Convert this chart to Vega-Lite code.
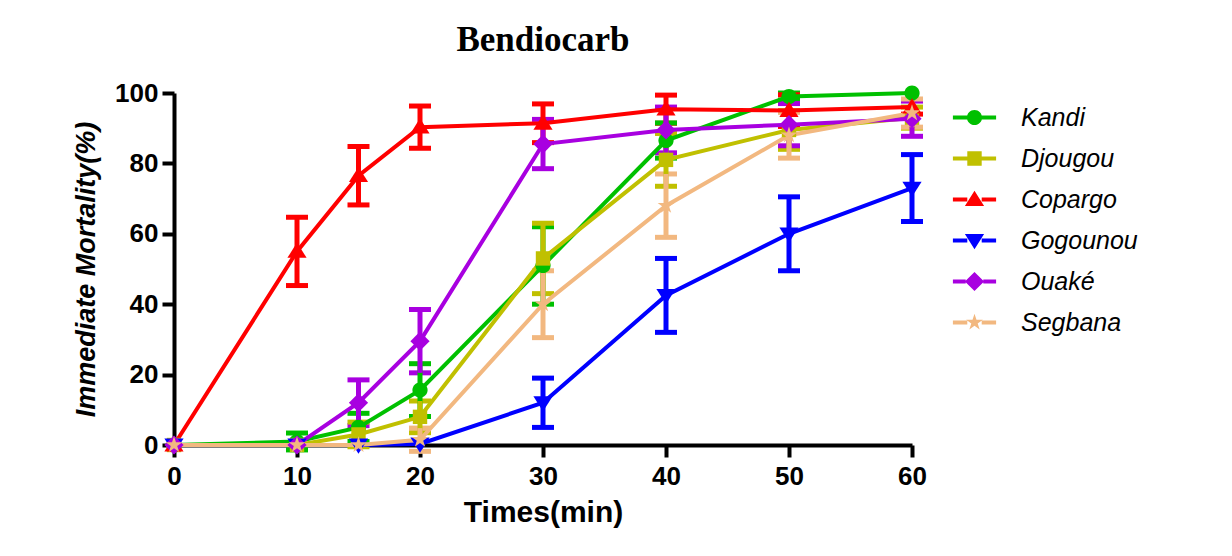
{
  "$schema": "https://vega.github.io/schema/vega-lite/v6.json",
  "autosize": {"type": "none"},
  "width": 738,
  "height": 352,
  "padding": {"left": 174, "top": 93, "right": 320, "bottom": 111},
  "background": "white",
  "title": {"text": "Bendiocarb", "font": "Liberation Serif", "fontSize": 35, "fontWeight": "bold", "color": "black", "anchor": "middle", "offset": 22},
  "config": {
    "view": {"stroke": null},
    "axis": {"grid": false, "labelFlush": false, "domainColor": "black", "domainWidth": 4, "tickColor": "black", "tickWidth": 4, "tickSize": 12, "labelColor": "black", "titleColor": "black", "labelFont": "Liberation Sans", "titleFont": "Liberation Sans", "labelFontWeight": "bold", "titleFontWeight": "bold", "labelFontSize": 26, "titleFontSize": 30}
  },
  "data": {"values": [
    {"site": "Kandi", "time": 0, "mort": 0, "sd": 0},
    {"site": "Kandi", "time": 10, "mort": 1, "sd": 2.4},
    {"site": "Kandi", "time": 15, "mort": 5, "sd": 4},
    {"site": "Kandi", "time": 20, "mort": 15.6, "sd": 7.5},
    {"site": "Kandi", "time": 30, "mort": 51, "sd": 11},
    {"site": "Kandi", "time": 40, "mort": 86.5, "sd": 5},
    {"site": "Kandi", "time": 50, "mort": 99, "sd": 1},
    {"site": "Kandi", "time": 60, "mort": 100, "sd": 0},
    {"site": "Djougou", "time": 0, "mort": 0, "sd": 0},
    {"site": "Djougou", "time": 10, "mort": 0, "sd": 0},
    {"site": "Djougou", "time": 15, "mort": 3, "sd": 3.5},
    {"site": "Djougou", "time": 20, "mort": 8, "sd": 4.5},
    {"site": "Djougou", "time": 30, "mort": 53, "sd": 10},
    {"site": "Djougou", "time": 40, "mort": 81, "sd": 7.5},
    {"site": "Djougou", "time": 50, "mort": 89.5, "sd": 5.5},
    {"site": "Djougou", "time": 60, "mort": 93, "sd": 3},
    {"site": "Copargo", "time": 0, "mort": 0, "sd": 0},
    {"site": "Copargo", "time": 10, "mort": 55, "sd": 9.7},
    {"site": "Copargo", "time": 15, "mort": 76.5, "sd": 8.3},
    {"site": "Copargo", "time": 20, "mort": 90.3, "sd": 6},
    {"site": "Copargo", "time": 30, "mort": 91.4, "sd": 5.5},
    {"site": "Copargo", "time": 40, "mort": 95.4, "sd": 4},
    {"site": "Copargo", "time": 50, "mort": 95, "sd": 4.5},
    {"site": "Copargo", "time": 60, "mort": 96, "sd": 2},
    {"site": "Gogounou", "time": 0, "mort": 0, "sd": 0},
    {"site": "Gogounou", "time": 10, "mort": 0, "sd": 0},
    {"site": "Gogounou", "time": 15, "mort": 0, "sd": 0},
    {"site": "Gogounou", "time": 20, "mort": 0.3, "sd": 0},
    {"site": "Gogounou", "time": 30, "mort": 12, "sd": 7},
    {"site": "Gogounou", "time": 40, "mort": 42.5, "sd": 10.5},
    {"site": "Gogounou", "time": 50, "mort": 60, "sd": 10.5},
    {"site": "Gogounou", "time": 60, "mort": 73, "sd": 9.5},
    {"site": "Ouaké", "time": 0, "mort": 0, "sd": 0},
    {"site": "Ouaké", "time": 10, "mort": 0, "sd": 0},
    {"site": "Ouaké", "time": 15, "mort": 12, "sd": 6.5},
    {"site": "Ouaké", "time": 20, "mort": 29.5, "sd": 9},
    {"site": "Ouaké", "time": 30, "mort": 85.5, "sd": 7},
    {"site": "Ouaké", "time": 40, "mort": 89.5, "sd": 6.5},
    {"site": "Ouaké", "time": 50, "mort": 91, "sd": 6},
    {"site": "Ouaké", "time": 60, "mort": 92.7, "sd": 5},
    {"site": "Segbana", "time": 0, "mort": 0, "sd": 0},
    {"site": "Segbana", "time": 10, "mort": 0, "sd": 0},
    {"site": "Segbana", "time": 15, "mort": 0, "sd": 0},
    {"site": "Segbana", "time": 20, "mort": 1.5, "sd": 3.3},
    {"site": "Segbana", "time": 30, "mort": 40, "sd": 9.5},
    {"site": "Segbana", "time": 40, "mort": 68, "sd": 9},
    {"site": "Segbana", "time": 50, "mort": 88, "sd": 6.5},
    {"site": "Segbana", "time": 60, "mort": 94.3, "sd": 4}
  ]},
  "encoding": {
    "x": {"field": "time", "type": "quantitative", "scale": {"domain": [0, 60], "nice": false}, "axis": {"values": [0, 10, 20, 30, 40, 50, 60], "title": "Times(min)", "labelPadding": 6, "titlePadding": 8}},
    "y": {"field": "mort", "type": "quantitative", "scale": {"domain": [0, 100], "nice": false}, "axis": {"values": [0, 20, 40, 60, 80, 100], "title": "Immediate Mortality(%)", "titleFontStyle": "italic", "titleFontSize": 27, "labelFontSize": 26, "labelPadding": 4, "titlePadding": 14}},
    "color": {"field": "site", "type": "nominal", "scale": {"domain": ["Kandi", "Djougou", "Copargo", "Gogounou", "Ouaké", "Segbana"], "range": ["#00C000", "#C0C000", "#FF0000", "#0000FF", "#A800E0", "#F2B880"]}, "legend": {
          "title": null, "orient": "none", "legendX": 788, "legendY": 12, "padding": 0,
          "labelFont": "Liberation Sans", "labelFontStyle": "italic", "labelFontSize": 25, "labelColor": "black",
          "labelOffset": 34, "rowPadding": 15, "symbolSize": 256, "symbolStrokeWidth": 0, "symbolOpacity": 1,
          "encode": {"symbols": {"update": {
            "fill": {"scale": "color", "field": "value"},
            "strokeWidth": {"value": 0},
            "opacity": {"value": 1},
            "shape": {"signal": "datum.value === 'Kandi' ? 'M-2.7,-0.25H-0.9V0.25H-2.7Z M0.9,-0.25H2.7V0.25H0.9Z M0,-0.95A0.95,0.95 0 1,1 0,0.95A0.95,0.95 0 1,1 0,-0.95Z' : datum.value === 'Djougou' ? 'M-2.7,-0.25H-0.9V0.25H-2.7Z M0.9,-0.25H2.7V0.25H0.9Z M-0.9,-0.9H0.9V0.9H-0.9Z' : datum.value === 'Copargo' ? 'M-2.7,-0.25H-0.9V0.25H-2.7Z M0.9,-0.25H2.7V0.25H0.9Z M0,-1.1L1.2,0.8H-1.2Z' : datum.value === 'Gogounou' ? 'M-2.7,-0.25H-0.9V0.25H-2.7Z M0.9,-0.25H2.7V0.25H0.9Z M0,1.1L1.2,-0.8H-1.2Z' : datum.value === 'Ouaké' ? 'M-2.7,-0.25H-1.1V0.25H-2.7Z M1.1,-0.25H2.7V0.25H1.1Z M0,-1.2L1.2,0L0,1.2L-1.2,0Z' : 'M-2.7,-0.25H-0.9V0.25H-2.7Z M0.9,-0.25H2.7V0.25H0.9Z M0,-1.1L0.247,-0.34L1.046,-0.34L0.399,0.13L0.647,0.89L0,0.42L-0.647,0.89L-0.399,0.13L-1.046,-0.34L-0.247,-0.34Z'"}
          }}}
        }}
  },
  "layer": [
    {
      "transform": [{"filter": "datum.sd > 0"}],
      "mark": {"type": "errorbar", "ticks": {"opacity": 1, "size": 22, "thickness": 5}, "rule": {"opacity": 1, "strokeWidth": 5}, "size": 22, "thickness": 5},
      "encoding": {
        "yError": {"field": "sd"}
      }
    },
    {
      "mark": {"type": "line", "strokeWidth": 4}
    },
    {
      "transform": [{"filter": "datum.site === 'Kandi'"}],
      "mark": {"type": "point", "filled": true, "opacity": 1, "size": 256, "strokeWidth": 0, "shape": "M0,-0.95A0.95,0.95 0 1,1 0,0.95A0.95,0.95 0 1,1 0,-0.95Z"}
    },
    {
      "transform": [{"filter": "datum.site === 'Djougou'"}],
      "mark": {"type": "point", "filled": true, "opacity": 1, "size": 256, "strokeWidth": 0, "shape": "M-0.9,-0.9H0.9V0.9H-0.9Z"}
    },
    {
      "transform": [{"filter": "datum.site === 'Copargo'"}],
      "mark": {"type": "point", "filled": true, "opacity": 1, "size": 256, "strokeWidth": 0, "shape": "M0,-1.1L1.2,0.8H-1.2Z"}
    },
    {
      "transform": [{"filter": "datum.site === 'Gogounou'"}],
      "mark": {"type": "point", "filled": true, "opacity": 1, "size": 256, "strokeWidth": 0, "shape": "M0,1.1L1.2,-0.8H-1.2Z"}
    },
    {
      "transform": [{"filter": "datum.site === 'Ouaké'"}],
      "mark": {"type": "point", "filled": true, "opacity": 1, "size": 256, "strokeWidth": 0, "shape": "M0,-1.2L1.2,0L0,1.2L-1.2,0Z"}
    },
    {
      "transform": [{"filter": "datum.site === 'Segbana'"}],
      "mark": {"type": "point", "filled": true, "opacity": 1, "size": 256, "strokeWidth": 0, "shape": "M0,-1.1L0.247,-0.34L1.046,-0.34L0.399,0.13L0.647,0.89L0,0.42L-0.647,0.89L-0.399,0.13L-1.046,-0.34L-0.247,-0.34Z"}
    }
  ]
}
